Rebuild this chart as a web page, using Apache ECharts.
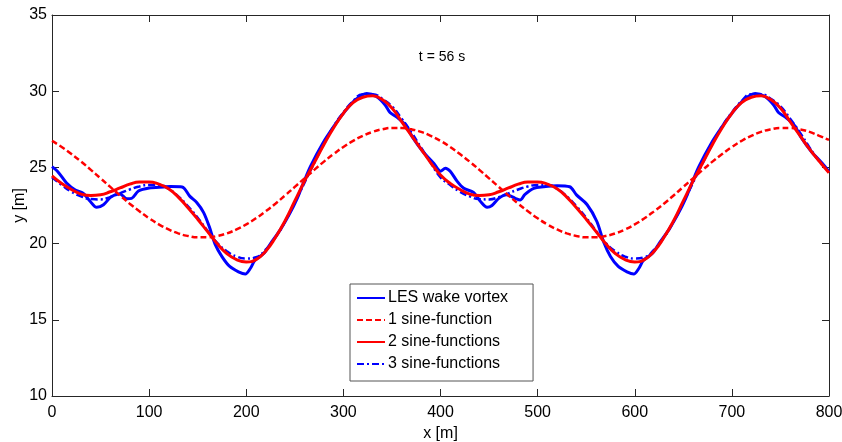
<!DOCTYPE html>
<html>
<head>
<meta charset="utf-8">
<script src="https://cdn.jsdelivr.net/npm/echarts@6/dist/echarts.min.js"></script>
<style>
  html, body { margin: 0; padding: 0; background: #fff; }
  #chart { width: 842px; height: 442px; }
</style>
</head>
<body>
<div id="chart"></div>
<script>
// Sampling positions along the flight path (m)
const sineX = [0,10,20,30,40,50,60,70,80,90,100,110,120,130,140,150,160,170,180,190,200,
  210,220,230,240,250,260,270,280,290,300,310,320,330,340,350,360,370,380,390,400,
  410,420,430,440,450,460,470,480,490,500,510,520,530,540,550,560,570,580,590,600,
  610,620,630,640,650,660,670,680,690,700,710,720,730,740,750,760,770,780,790,800];

// Fit with one sine function (m)
const oneSine = [26.74,26.34,25.88,25.38,24.84,24.28,23.72,23.16,22.62,22.12,21.66,21.26,20.93,20.67,20.50,20.41,20.41,20.50,20.67,20.93,21.26,
  21.66,22.12,22.62,23.16,23.72,24.28,24.84,25.38,25.88,26.34,26.74,27.07,27.33,27.50,27.59,27.59,27.50,27.33,27.07,26.74,
  26.34,25.88,25.38,24.84,24.28,23.72,23.16,22.62,22.12,21.66,21.26,20.93,20.67,20.50,20.41,20.41,20.50,20.67,20.93,21.26,
  21.66,22.12,22.62,23.16,23.72,24.28,24.84,25.38,25.88,26.34,26.74,27.07,27.33,27.50,27.59,27.59,27.50,27.33,27.07,26.80];

// Fit with two sine functions (m)
const twoSine = [24.45,23.95,23.55,23.25,23.15,23.2,23.4,23.65,23.9,24.05,24.05,23.9,23.6,23.05,22.35,21.6,20.8,20.0,19.35,18.95,18.8,
  18.95,19.5,20.4,21.5,22.8,24.1,25.3,26.5,27.6,28.55,29.25,29.6,29.7,29.45,28.9,28.0,27.1,26.2,25.3,24.5,
  23.95,23.55,23.25,23.15,23.2,23.4,23.65,23.9,24.05,24.05,23.9,23.6,23.05,22.35,21.6,20.8,20.0,19.35,18.95,18.8,
  18.95,19.5,20.4,21.5,22.8,24.1,25.3,26.5,27.6,28.55,29.25,29.6,29.7,29.45,28.9,28.0,27.1,26.2,25.4,24.65];

// Fit with three sine functions (m)
const threeSine = [24.35,23.85,23.4,23.1,22.92,22.9,23.05,23.3,23.55,23.75,23.85,23.85,23.6,23.1,22.45,21.7,20.85,20.05,19.5,19.15,19.02,
  19.1,19.6,20.4,21.45,22.7,24.0,25.3,26.55,27.7,28.6,29.35,29.8,29.8,29.5,29.0,28.2,27.3,26.3,25.3,24.35,
  23.85,23.4,23.1,22.92,22.9,23.05,23.3,23.55,23.75,23.85,23.85,23.6,23.1,22.45,21.7,20.85,20.05,19.5,19.15,19.02,
  19.1,19.6,20.4,21.45,22.7,24.0,25.3,26.55,27.7,28.6,29.35,29.8,29.8,29.5,29.0,28.2,27.3,26.3,25.4,24.7];

// LES wake vortex centre line: positions (m) and lateral offsets (m)
const lesX = [0,6,15,24,32,39,46,53,61,70,77,82,89,100,115,122,134,142,149,156,162,168,175,183,192,199,204,209,218,225,235,245,252,259,266,279,290,300,312,324,334,343,348,355,364,372,382,393,
  400,405,410,417,424,434,441,448,453,460,468,477,482,487,496,506,520,533,540,551,561,568,575,583,592,599,604,609,618,625,635,645,652,659,666,679,690,700,712,724,734,743,748,755,764,772,782,793,800];
const lesY = [25.05,24.72,23.98,23.52,23.3,22.8,22.38,22.55,23.08,23.25,22.95,22.97,23.45,23.65,23.72,23.75,23.72,23.1,22.7,22.05,21.1,19.95,19.15,18.5,18.15,18.0,18.35,18.9,19.35,20.0,20.9,22.0,22.9,24.0,25.05,26.6,27.67,28.55,29.42,29.85,29.65,29.1,28.6,28.3,27.78,26.9,26.03,25.27,
  24.75,24.95,24.75,24.1,23.63,23.36,22.78,22.38,22.5,22.97,23.2,22.97,22.86,23.23,23.63,23.73,23.8,23.73,23.2,22.55,21.45,20.1,19.15,18.5,18.15,18.0,18.35,18.9,19.35,20.0,20.9,22.0,22.9,24.0,25.05,26.6,27.67,28.55,29.42,29.85,29.65,29.1,28.6,28.3,27.78,26.9,26.03,25.27,24.72];

const xTicks = ['0','100','200','300','400','500','600','700','800'];
const yTicks = ['10','15','20','25','30','35'];
const seriesNames = ['LES wake vortex', '1 sine-function', '2 sine-functions', '3 sine-functions'];

const FONT = "'Liberation Sans', Arial, Helvetica, sans-serif";
const AXIS_COLOR = '#262626';

const pairs = (xs, ys) => xs.map((x, i) => [x, ys[i]]);

const chart = echarts.init(document.getElementById('chart'), null, { renderer: 'canvas' });

const boxAxis = {
  axisLine: { show: true, onZero: false, lineStyle: { color: AXIS_COLOR, width: 1 } },
  axisTick: { show: true, inside: true, length: 7, lineStyle: { color: AXIS_COLOR } },
  splitLine: { show: false },
  minorTick: { show: false }
};

chart.setOption({
  animation: false,
  backgroundColor: '#ffffff',
  textStyle: { fontFamily: FONT },
  grid: { left: 52, right: 13, top: 15, bottom: 46, containLabel: false, outerBoundsMode: 'none' },
  graphic: [{
    type: 'text',
    x: 442, y: 57,
    style: {
      text: 't = 56 s', font: '14px ' + FONT, fill: '#000',
      textAlign: 'center', textVerticalAlign: 'middle'
    }
  }],
  legend: {
    data: seriesNames,
    orient: 'vertical',
    left: 350, top: 284,
    padding: [6, 25, 9, 6],
    itemWidth: 28, itemHeight: 14, itemGap: 6,
    backgroundColor: '#ffffff',
    borderColor: '#555555', borderWidth: 1, borderRadius: 0,
    itemStyle: { opacity: 0 },
    textStyle: { fontFamily: FONT, fontSize: 16, color: '#000', lineHeight: 16, padding: [0, 0, 0, -2] }
  },
  xAxis: [
    Object.assign({}, boxAxis, {
      type: 'value', min: 0, max: 800, interval: 100, position: 'bottom',
      name: 'x [m]', nameLocation: 'middle', nameGap: 30, nameMoveOverlap: false,
      nameTextStyle: { fontFamily: FONT, fontSize: 16, color: '#000' },
      axisLabel: {
        fontFamily: FONT, fontSize: 16, color: '#000', margin: 9,
        formatter: v => xTicks[Math.round(v / 100)]
      }
    }),
    Object.assign({}, boxAxis, {
      type: 'value', min: 0, max: 800, interval: 100, position: 'top',
      axisLabel: { show: false }
    })
  ],
  yAxis: [
    Object.assign({}, boxAxis, {
      type: 'value', min: 10, max: 35, interval: 5, position: 'left',
      name: 'y [m]', nameLocation: 'middle', nameGap: 24, nameRotate: 90, nameMoveOverlap: false,
      nameTextStyle: { fontFamily: FONT, fontSize: 16, color: '#000' },
      axisLabel: {
        fontFamily: FONT, fontSize: 16, color: '#000', margin: 5,
        formatter: v => yTicks[Math.round((v - 10) / 5)]
      }
    }),
    Object.assign({}, boxAxis, {
      type: 'value', min: 10, max: 35, interval: 5, position: 'right',
      axisLabel: { show: false }
    })
  ],
  series: [
    {
      name: seriesNames[0], type: 'line', symbol: 'none', smooth: 0.3, z: 2,
      data: pairs(lesX, lesY),
      lineStyle: { color: '#0000ff', width: 3, type: 'solid' },
      itemStyle: { color: '#0000ff' }
    },
    {
      name: seriesNames[3], type: 'line', symbol: 'none', smooth: true, z: 3,
      data: pairs(sineX, threeSine),
      lineStyle: { color: '#0000ff', width: 2.5, type: [7, 3, 2, 3] },
      itemStyle: { color: '#0000ff' }
    },
    {
      name: seriesNames[1], type: 'line', symbol: 'none', smooth: true, z: 4,
      data: pairs(sineX, oneSine),
      lineStyle: { color: '#ff0000', width: 2.5, type: [6, 3] },
      itemStyle: { color: '#ff0000' }
    },
    {
      name: seriesNames[2], type: 'line', symbol: 'none', smooth: true, z: 5,
      data: pairs(sineX, twoSine),
      lineStyle: { color: '#ff0000', width: 3, type: 'solid' },
      itemStyle: { color: '#ff0000' }
    }
  ]
});
</script>
</body>
</html>
